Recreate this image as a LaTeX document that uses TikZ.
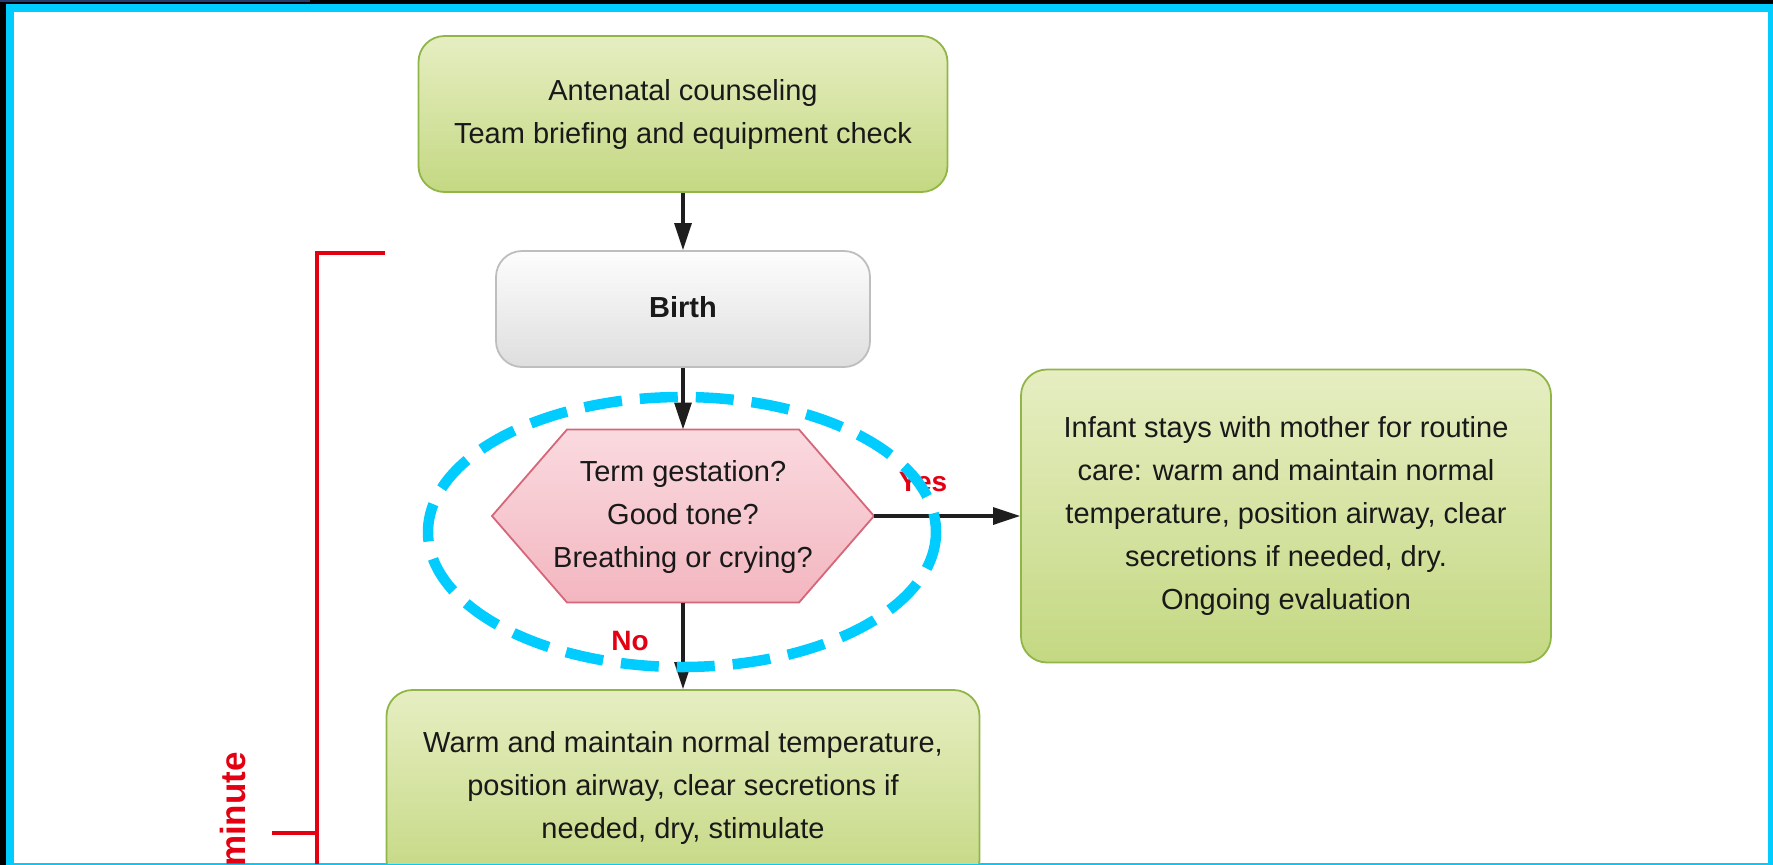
\documentclass[tikz,border=0pt]{standalone}
\usepackage{fontspec}
\setmainfont{Liberation Sans}
\usetikzlibrary{arrows.meta}

\definecolor{frameCyan}{RGB}{0,204,255}
\definecolor{edgeBlue}{RGB}{40,60,110}
\definecolor{boxGreenTop}{RGB}{230,238,194}
\definecolor{boxGreenBot}{RGB}{196,216,130}
\definecolor{boxGreenLine}{RGB}{145,182,72}
\definecolor{birthTop}{RGB}{253,253,253}
\definecolor{birthBot}{RGB}{222,222,222}
\definecolor{birthLine}{RGB}{190,190,190}
\definecolor{hexTop}{RGB}{250,218,223}
\definecolor{hexBot}{RGB}{243,182,192}
\definecolor{hexLine}{RGB}{214,102,122}
\definecolor{markRed}{RGB}{226,0,18}
\definecolor{flowLine}{RGB}{30,30,30}
\definecolor{bodyText}{RGB}{25,25,25}

\begin{document}
\begin{tikzpicture}[x=1pt,y=-1pt,
  flowtext/.style={font=\fontsize{29}{43}\selectfont, align=center, text=bodyText},
  greenbox/.style={flowtext, draw=boxGreenLine, line width=1.8pt, rounded corners=26pt,
    top color=boxGreenTop, bottom color=boxGreenBot, inner sep=0pt},
  greybox/.style={flowtext, draw=birthLine, line width=1.8pt, rounded corners=26pt,
    top color=birthTop, bottom color=birthBot, inner sep=0pt},
  decision/.style={draw=hexLine, line width=1.8pt, top color=hexTop, bottom color=hexBot},
  flow/.style={draw=flowLine, line width=3.2pt, -{Triangle[length=27pt,width=17pt]}},
  answer/.style={font=\fontsize{28}{30}\selectfont\bfseries, text=markRed, inner sep=0pt},
  bracket/.style={draw=markRed, line width=3.2pt},
  focusring/.style={draw=frameCyan, line width=10.5pt, dash pattern=on 38pt off 18pt},
]
\useasboundingbox (0,0) rectangle (1773,865);

% frame
\fill[black] (0,0) rectangle (1773,865);
\fill[frameCyan] (6,4) rectangle (1773,865);
\fill[white] (14,12) rectangle (1768,863);
\draw[edgeBlue, line width=1.5pt] (0,0.75) -- (310,0.75);

\begin{scope}
\clip (14,12) rectangle (1768,863);

% boxes
\node[greenbox, minimum width=529pt, minimum height=156pt] (prep) at (683,114)
  {Antenatal counseling\\Team briefing and equipment check};
\node[greybox, minimum width=374pt, minimum height=116pt, font=\fontsize{29}{43}\selectfont\bfseries]
  (birth) at (683,309) {\raisebox{4pt}{Birth}};

% decision hexagon
\coordinate (hexW) at (492,516);
\coordinate (hexE) at (874,516);
\coordinate (hexN) at (683,429.5);
\coordinate (hexS) at (683,602.5);
\path[decision] (hexW) -- (567,429.5) -- (799,429.5) -- (hexE) -- (799,602.5) -- (567,602.5) -- cycle;
\node[flowtext, inner sep=0pt] (check) at (683,517)
  {Term gestation?\\Good tone?\\Breathing or crying?};

\node[greenbox, minimum width=530pt, minimum height=293pt] (routine) at (1286,516)
  {Infant stays with mother for routine\\care: warm and maintain normal\\temperature, position airway, clear\\secretions if needed, dry.\\Ongoing evaluation};
\node[greenbox, minimum width=593pt, minimum height=196pt] (initial) at (683,788)
  {Warm and maintain normal temperature,\\position airway, clear secretions if\\needed, dry, stimulate};

% connectors
\draw[flow] (prep.south) -- (birth.north);
\draw[flow] (birth.south) -- (hexN);
\draw[flow] (hexE) -- (hexE -| routine.west);
\draw[flow] (hexS) -- (initial.north);

\node[answer] (yes) at (923,482) {Yes};
\node[answer] (no) at (630,641) {No};

% time bracket
\coordinate (brTop) at (385,253);
\coordinate (brCorner) at (317,253);
\coordinate (brEnd) at (317,875);
\coordinate (tickL) at (272,833);
\coordinate (tickR) at (317,833);
\draw[bracket] (brTop) -- (brCorner) -- (brEnd);
\draw[bracket] (tickL) -- (tickR);
\node[rotate=90, anchor=east, inner sep=0pt, text=markRed,
  font=\fontsize{35}{35}\selectfont\bfseries] (span) at (233,752) {minute};

% highlight ring
\draw[focusring] (682,532) ellipse [x radius=254, y radius=135];
\end{scope}
\end{tikzpicture}
\end{document}
